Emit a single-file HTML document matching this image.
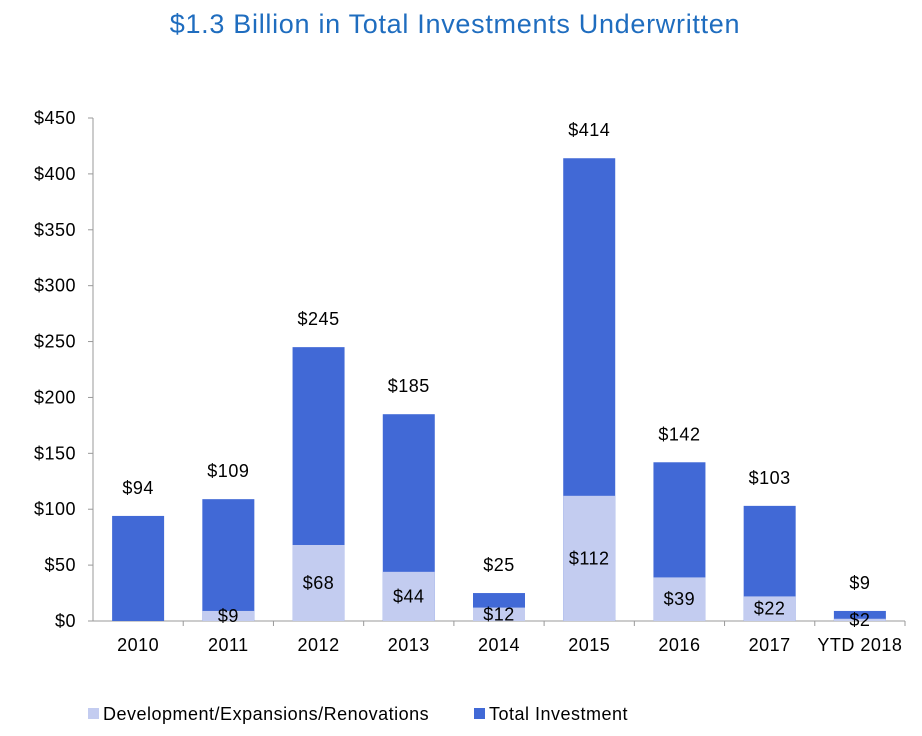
<!DOCTYPE html>
<html><head><meta charset="utf-8"><style>
body{margin:0;background:#fff;width:922px;height:731px;overflow:hidden;font-family:"Liberation Sans",sans-serif}
text{letter-spacing:0.5px}
</style></head><body>
<svg id="chart" width="922" height="731">
<text x="455" y="33" text-anchor="middle" font-size="27" fill="#1f6dbf" style="letter-spacing:0.7px">$1.3 Billion in Total Investments Underwritten</text>
<g id="axes"></g><g id="bars"></g><g id="labels"></g>
<g>
<rect x="88" y="708" width="11" height="11" fill="#c3ccf0"/>
<text x="103" y="720" font-size="18" fill="#000">Development/Expansions/Renovations</text>
<rect x="474" y="708" width="11" height="11" fill="#4169d6"/>
<text x="489" y="720" font-size="18" fill="#000">Total Investment</text>
</g>
</svg>
<script>
const categories=["2010","2011","2012","2013","2014","2015","2016","2017","YTD 2018"];
const totals=[94,109,245,185,25,414,142,103,9];
const development=[0,9,68,44,12,112,39,22,2];
const yTicks=[0,50,100,150,200,250,300,350,400,450];
const NS="http://www.w3.org/2000/svg";
const x0=93,x1=905,yBase=621,yTop=118,yMax=450;
const band=(x1-x0)/categories.length,bw=52;
function y(v){return yBase-(v/yMax)*(yBase-yTop);}
function xc(i){return x0+band*(i+0.5);}
function mk(t,a,p){const e=document.createElementNS(NS,t);for(const k in a)e.setAttribute(k,a[k]);p.appendChild(e);return e;}
const ax=document.getElementById('axes'),bars=document.getElementById('bars'),lb=document.getElementById('labels');
let l=mk('line',{x1:x0,y1:yTop,x2:x0,y2:yBase,stroke:'#999'},ax);


l=mk('line',{x1:x0,y1:yBase,x2:x1,y2:yBase,stroke:'#999'},ax);


yTicks.forEach(v=>{
 mk('line',{x1:x0-5,y1:y(v),x2:x0,y2:y(v),stroke:'#999'},ax);
 const t=mk('text',{x:x0-17,y:y(v)+6,'text-anchor':'end','font-size':18},ax);
 t.textContent='$'+v;
 
 
});
categories.forEach((c,i)=>{
 mk('line',{x1:x0+band*(i+1),y1:yBase,x2:x0+band*(i+1),y2:yBase+5,stroke:'#999'},ax);
 const t=mk('text',{x:xc(i),y:yBase+30,'text-anchor':'middle','font-size':18},ax);
 t.textContent=c;
 
 
 const b=mk('rect',{x:xc(i)-bw/2,y:y(totals[i]),width:bw,height:yBase-y(totals[i]),fill:'#4169d6'},bars);
 
 
 const tl=mk('text',{x:xc(i),y:y(totals[i])-22,'text-anchor':'middle','font-size':18},lb);
 tl.textContent='$'+totals[i];
 
 
 if(development[i]>0){
  const d=mk('rect',{x:xc(i)-bw/2,y:y(development[i]),width:bw,height:yBase-y(development[i]),fill:'#c3ccf0'},bars);
  
  
  const dl=mk('text',{x:xc(i),y:(y(development[i])+yBase)/2+6,'text-anchor':'middle','font-size':18},lb);
  dl.textContent='$'+development[i];
  
  
 }
});
</script>
</body></html>
